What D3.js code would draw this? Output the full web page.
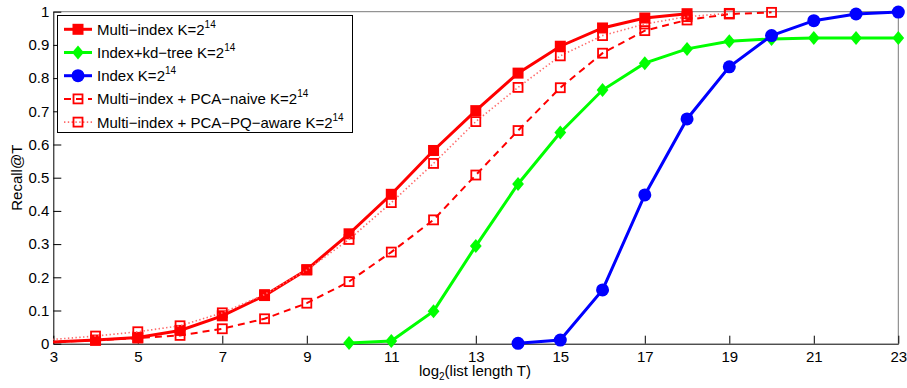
<!DOCTYPE html>
<html>
<head>
  <meta charset="utf-8">
  <title>Recall@T</title>
  <script src="https://d3js.org/d3.v7.min.js"></script>
  <style>
    body { margin: 0; background: #fff; }
    svg { font-family: "Liberation Sans", Arial, sans-serif; }
    .tick text { font-size: 15px; fill: #000; }
    .line { fill: none; }
  </style>
</head>
<body>
  <script>
    // data (x = log2 of list length T)
    var multiX   = [2, 4, 5, 6, 7, 8, 9, 10, 11, 12, 13, 14, 15, 16, 17, 18];
    var multiY   = [0.000, 0.011, 0.019, 0.040, 0.084, 0.145, 0.223, 0.331, 0.450, 0.582, 0.702, 0.815, 0.896, 0.951, 0.981, 0.994];
    var kdX      = [10, 11, 12, 13, 14, 15, 16, 17, 18, 19, 20, 21, 22, 23];
    var kdY      = [0.002, 0.008, 0.098, 0.294, 0.481, 0.636, 0.764, 0.845, 0.888, 0.911, 0.918, 0.921, 0.921, 0.921];
    var indexX   = [14, 15, 16, 17, 18, 19, 20, 21, 22, 23];
    var indexY   = [0.001, 0.011, 0.162, 0.448, 0.677, 0.834, 0.928, 0.973, 0.993, 0.999];
    var naiveX   = [2, 4, 5, 6, 7, 8, 9, 10, 11, 12, 13, 14, 15, 16, 17, 18, 19, 20];
    var naiveY   = [0.000, 0.010, 0.017, 0.025, 0.045, 0.075, 0.122, 0.187, 0.276, 0.373, 0.508, 0.642, 0.771, 0.875, 0.943, 0.975, 0.993, 0.998];
    var awareX   = [2, 4, 5, 6, 7, 8, 9, 10, 11, 12, 13, 14, 15, 16, 17, 18, 19];
    var awareY   = [0.003, 0.023, 0.036, 0.054, 0.093, 0.148, 0.222, 0.314, 0.425, 0.543, 0.669, 0.772, 0.867, 0.928, 0.963, 0.985, 0.995];

    var seriesNames = ["Multi\u2212index K=2", "Index+kd\u2212tree K=2", "Index K=2",
                       "Multi\u2212index + PCA\u2212naive K=2", "Multi\u2212index + PCA\u2212PQ\u2212aware K=2"];
    var xTicks = [3, 5, 7, 9, 11, 13, 15, 17, 19, 21, 23];
    var yTicks = [0, 0.1, 0.2, 0.3, 0.4, 0.5, 0.6, 0.7, 0.8, 0.9, 1];

    var styles = [
      {color: "#ff0000", width: 3, dash: null, marker: "square", fill: true, size: 11},
      {color: "#00ff00", width: 3, dash: null, marker: "diamond", fill: true, size: 14},
      {color: "#0000ff", width: 3, dash: null, marker: "circle", fill: true, size: 13},
      {color: "#ff0000", width: 2, dash: "7,5", marker: "square", fill: false, size: 9},
      {color: "#ff6a6a", width: 1.6, dash: "1.4,2.4", marker: "square", fill: false, size: 9}
    ];

    var series = [
      {xs: multiX, ys: multiY},
      {xs: kdX, ys: kdY},
      {xs: indexX, ys: indexY},
      {xs: naiveX, ys: naiveY},
      {xs: awareX, ys: awareY}
    ];

    var W = 907, H = 388;
    var pLeft = 53.3, pRight = 898.3, pTop = 11.7, pBottom = 343.7;

    var x = d3.scaleLinear().domain([3, 23]).range([pLeft, pRight]);
    var y = d3.scaleLinear().domain([0, 1]).range([pBottom, pTop]);

    var svg = d3.select("body").append("svg")
        .attr("width", W)
        .attr("height", H);

    svg.append("defs").append("clipPath")
        .attr("id", "plot")
      .append("rect")
        .attr("x", pLeft).attr("y", pTop - 8)
        .attr("width", pRight - pLeft + 8).attr("height", pBottom - pTop + 16);

    // box
    svg.append("line").attr("x1", pLeft).attr("x2", pRight).attr("y1", pTop).attr("y2", pTop)
        .attr("stroke", "#7a7a7a");
    svg.append("line").attr("x1", pRight).attr("x2", pRight).attr("y1", pTop).attr("y2", pBottom)
        .attr("stroke", "#7a7a7a");

    var xAxis = d3.axisBottom(x).tickValues(xTicks).tickSizeInner(-8).tickSizeOuter(0).tickPadding(8)
        .tickFormat(d3.format("d"));
    var yAxis = d3.axisLeft(y).tickValues(yTicks).tickSizeInner(-8).tickSizeOuter(0)
        .tickFormat(function(d) { return d === 0 ? "0" : d === 1 ? "1" : d3.format(".1f")(d); });

    svg.append("g")
        .attr("transform", "translate(0," + pBottom + ")")
        .call(xAxis)
        .call(function(g) { g.select(".domain").attr("stroke", "#000"); });

    svg.append("g")
        .attr("transform", "translate(" + pLeft + ",0)")
        .call(yAxis)
        .call(function(g) {
          g.select(".domain").attr("stroke", "#000");
          g.selectAll(".tick text").attr("x", -4);
        });

    // axis labels
    var xl = svg.append("text")
        .attr("x", 475).attr("y", 376)
        .attr("text-anchor", "middle")
        .style("font-size", "15px");
    xl.append("tspan").text("log");
    xl.append("tspan").attr("dy", 4).style("font-size", "10px").text("2");
    xl.append("tspan").attr("dy", -4).text("(list length T)");

    svg.append("text")
        .attr("transform", "translate(22," + ((pTop + pBottom) / 2) + ") rotate(-90)")
        .attr("text-anchor", "middle")
        .style("font-size", "15px")
        .text("Recall@T");

    function drawMarker(g, st, cx, cy) {
      var s = st.size;
      var m;
      if (st.marker === "square") {
        m = g.append("rect").attr("x", cx - s / 2).attr("y", cy - s / 2).attr("width", s).attr("height", s);
      } else if (st.marker === "diamond") {
        m = g.append("path").attr("d", "M" + cx + "," + (cy - s / 2) + "L" + (cx + s * 0.42) + "," + cy +
          "L" + cx + "," + (cy + s / 2) + "L" + (cx - s * 0.42) + "," + cy + "Z");
      } else {
        m = g.append("circle").attr("cx", cx).attr("cy", cy).attr("r", s / 2);
      }
      if (st.fill) {
        m.attr("fill", st.color).attr("stroke", "none");
      } else {
        m.attr("fill", "none").attr("stroke", "#ff0000").attr("stroke-width", 1.8);
      }
    }

    var line = d3.line()
        .x(function(d) { return x(d[0]); })
        .y(function(d) { return y(d[1]); });

    var plot = svg.append("g").attr("clip-path", "url(#plot)");

    series.forEach(function(s, i) {
      var st = styles[i];
      var pts = s.xs.map(function(v, j) { return [v, s.ys[j]]; });
      plot.append("path")
          .datum(pts)
          .attr("class", "line")
          .attr("stroke", st.color)
          .attr("stroke-width", st.width)
          .attr("stroke-dasharray", st.dash)
          .attr("d", line);
      var mg = plot.append("g");
      pts.forEach(function(p) {
        if (p[0] < 3) return;
        drawMarker(mg, st, x(p[0]), y(p[1]));
      });
    });

    // legend
    var lg = svg.append("g");
    lg.append("rect")
        .attr("x", 57.5).attr("y", 15.5)
        .attr("width", 295).attr("height", 117)
        .attr("fill", "#fff").attr("stroke", "#000");

    seriesNames.forEach(function(name, i) {
      var st = styles[i];
      var cy = 29.3 + i * 23.2;
      lg.append("line")
          .attr("x1", 64).attr("x2", 92).attr("y1", cy).attr("y2", cy)
          .attr("stroke", st.color).attr("stroke-width", st.width)
          .attr("stroke-dasharray", st.dash);
      drawMarker(lg, st, 78, cy);
      var t = lg.append("text")
          .attr("x", 97).attr("y", cy + 5.5)
          .style("font-size", "15px");
      t.append("tspan").text(name);
      t.append("tspan").attr("dy", -7).style("font-size", "10px").text("14");
    });
  </script>
</body>
</html>
